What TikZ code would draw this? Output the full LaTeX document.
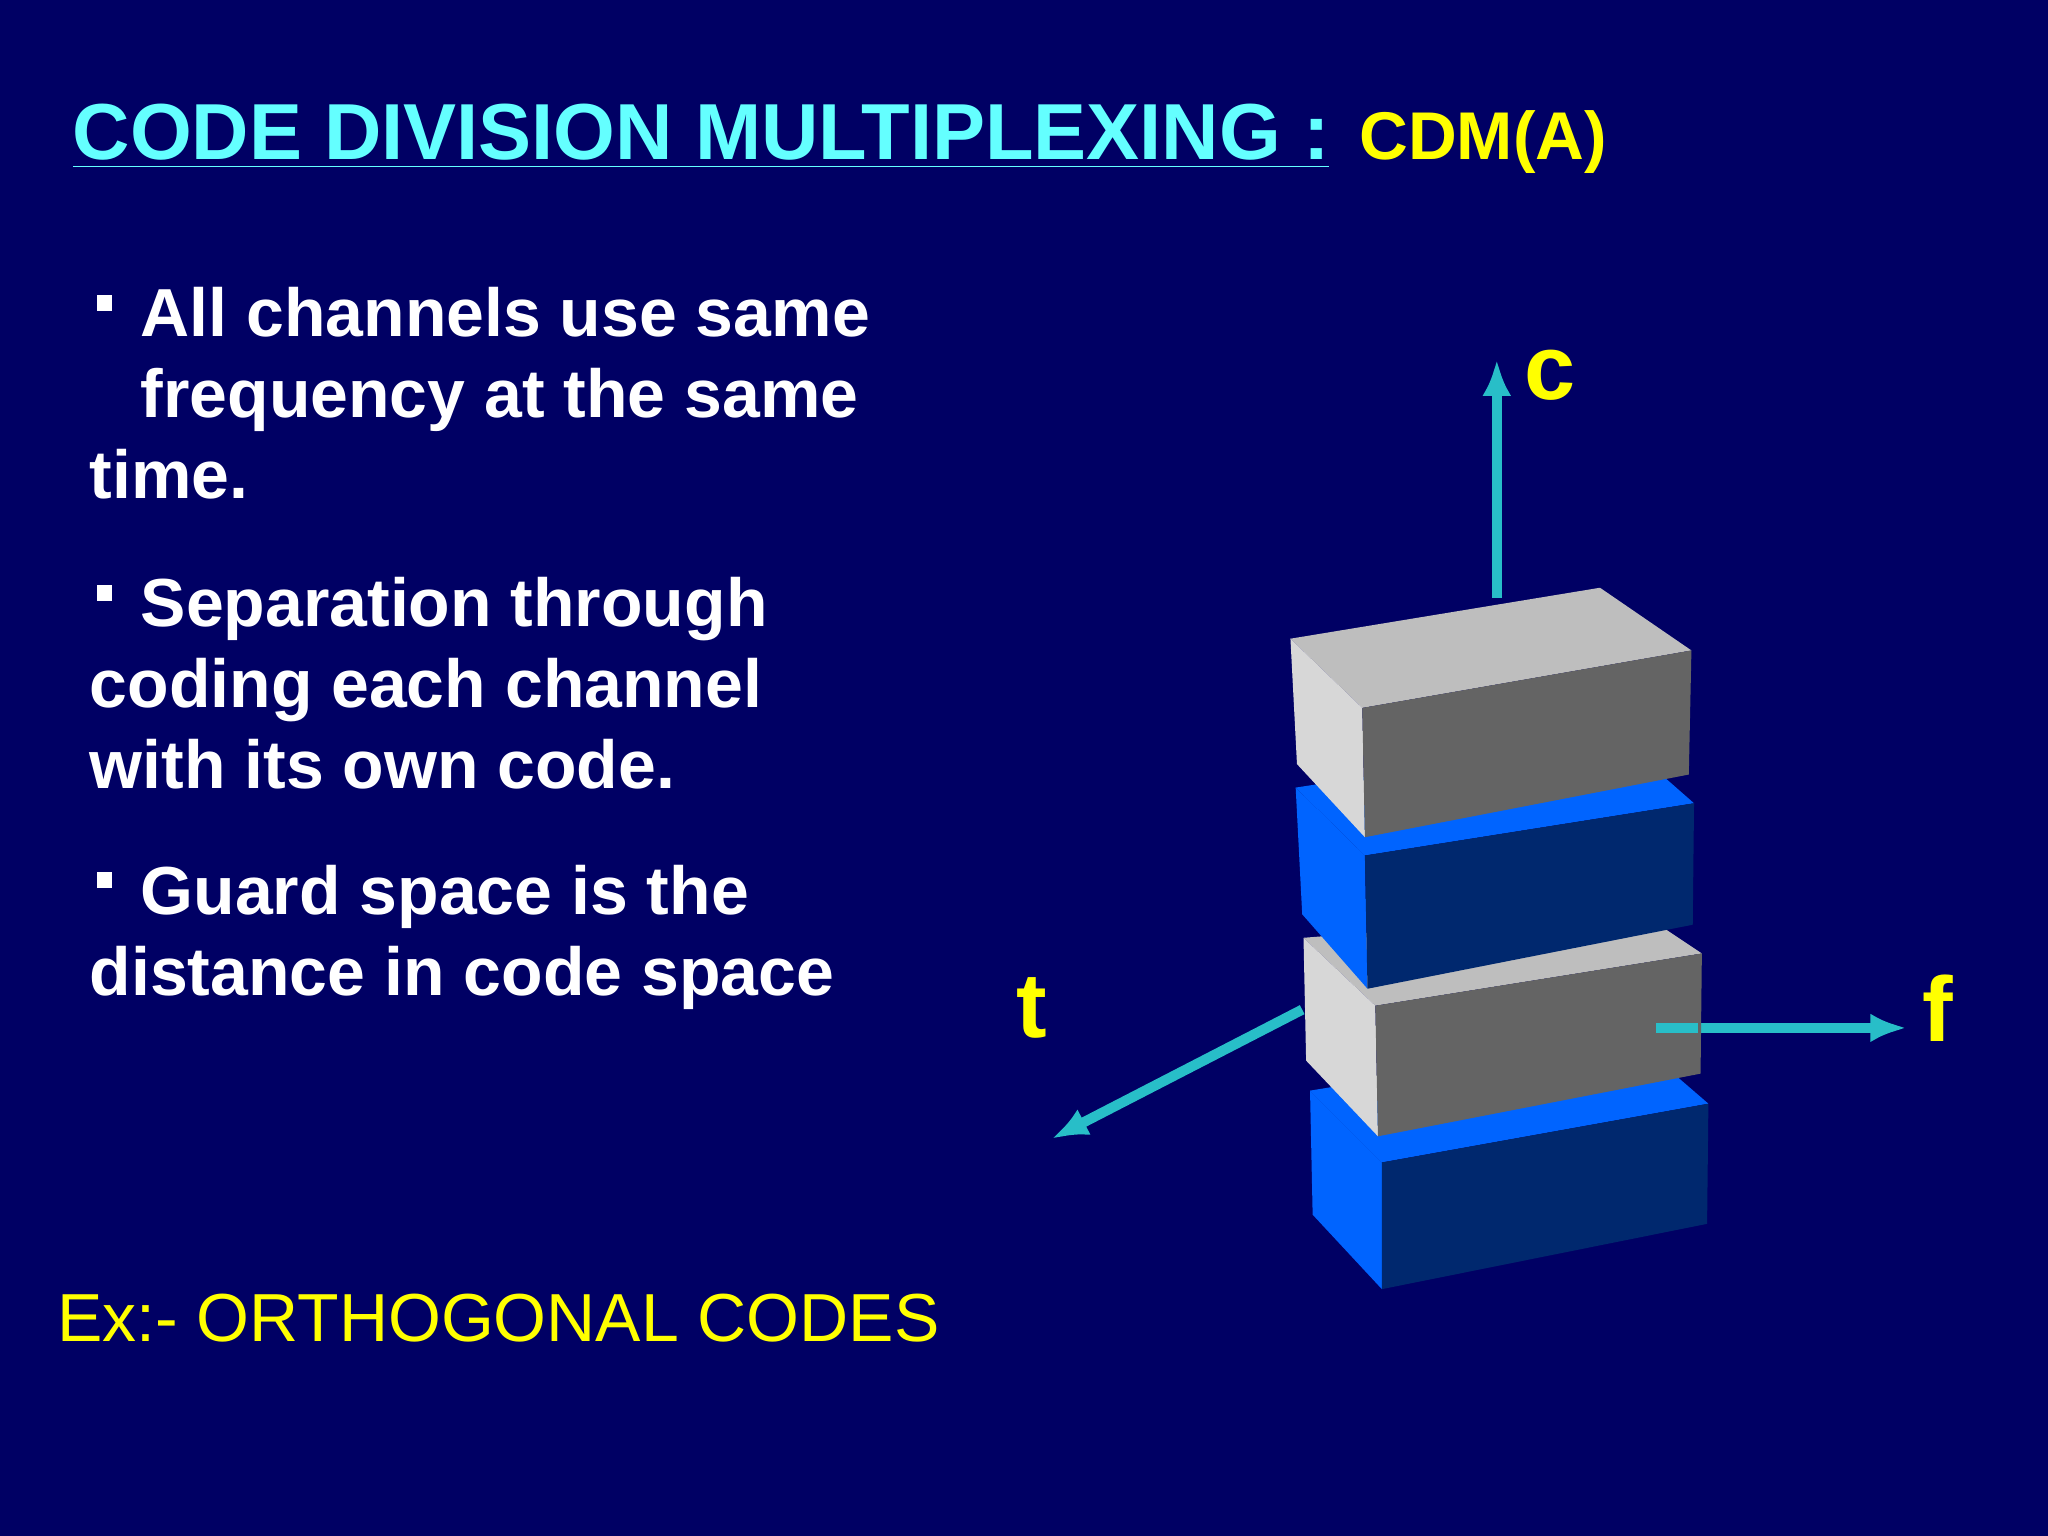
\documentclass[tikz,border=0pt]{standalone}
\usepackage{fontspec}
\setmainfont{Liberation Sans}
\definecolor{bg}{RGB}{0,0,100}
\definecolor{ttl}{RGB}{100,255,255}
\definecolor{yel}{RGB}{255,255,0}
\definecolor{axis}{RGB}{40,190,200}
\definecolor{gtop}{RGB}{190,190,190}
\definecolor{gleft}{RGB}{215,215,215}
\definecolor{gfront}{RGB}{100,100,100}
\definecolor{bleft}{RGB}{0,100,255}
\definecolor{bfront}{RGB}{0,40,110}
\begin{document}
\begin{tikzpicture}[x=0.01cm,y=-0.01cm,
  txt/.style={anchor=base west,inner sep=0,text=white,font=\bfseries\fontsize{14.8pt}{18pt}\selectfont},
  bul/.style={fill=white,minimum size=0.12cm,inner sep=0},
  ax/.style={draw=axis,line width=2.2pt,-{Latex[length=0.28cm,width=0.22cm]}},
  axl/.style={text=yel,font=\bfseries\fontsize{20pt}{24pt}\selectfont}]
\usetikzlibrary{arrows.meta}
\fill[bg] (0,0) rectangle (1568,1176);
\node[anchor=base west,inner sep=0,text=ttl,font=\bfseries\fontsize{17.3pt}{20pt}\selectfont] (title) at (55,122) {\underline{CODE DIVISION MULTIPLEXING :}};
\node[anchor=base west,inner sep=0,text=yel,font=\bfseries\fontsize{14.7pt}{18pt}\selectfont] (cdm) at (1040,122) {CDM(A)};
\node[bul] (b1) at (80,232) {};
\node[txt] (l1) at (107,258) {All channels use same};
\node[txt] (l2) at (107,320) {frequency at the same};
\node[txt] (l3) at (68,382) {time.};
\node[bul] (b2) at (80,454) {};
\node[txt] (l4) at (107,480) {Separation through};
\node[txt] (l5) at (68,542) {coding each channel};
\node[txt] (l6) at (68,604) {with its own code.};
\node[bul] (b3) at (80,674) {};
\node[txt] (l7) at (107,700) {Guard space is the};
\node[txt] (l8) at (68,762) {distance in code space};
\node[anchor=base west,inner sep=0,text=yel,font=\fontsize{14.8pt}{19pt}\selectfont] (ex) at (43,1027) {Ex:- ORTHOGONAL CODES};
% axes
\coordinate (c0) at (1146,458); \coordinate (c1) at (1146,275);
\coordinate (t0) at (997,773); \coordinate (t1) at (805,872);
\coordinate (f0) at (1268,787); \coordinate (f1) at (1460,787);
\draw[ax] (c0) -- (c1);
\draw[ax] (f0) -- (f1);
% bottom blue box
\fill[bleft] (1003,835) -- (1250,795) -- (1308,845) -- (1058,890) -- cycle;
\fill[bleft] (1003,835) -- (1058,890) -- (1058,987) -- (1005,930) -- cycle;
\fill[bfront] (1058,890) -- (1308,845) -- (1307,937) -- (1058,987) -- cycle;
% gray box 3
\fill[gtop] (998,718) -- (1255,698) -- (1303,730) -- (1053,770) -- cycle;
\fill[gleft] (998,718) -- (1053,770) -- (1055,870) -- (1000,812) -- cycle;
\fill[gfront] (1053,770) -- (1303,730) -- (1302,822) -- (1055,870) -- cycle;
% blue box 2
\fill[bleft] (992,603) -- (1240,565) -- (1297,615) -- (1045,655) -- cycle;
\fill[bleft] (992,603) -- (1045,655) -- (1047,757) -- (997,700) -- cycle;
\fill[bfront] (1045,655) -- (1297,615) -- (1296,708) -- (1047,757) -- cycle;
% top gray box
\fill[gtop] (988,489) -- (1225,450) -- (1295,498) -- (1043,542) -- cycle;
\fill[gleft] (988,489) -- (1043,542) -- (1045,641) -- (993,585) -- cycle;
\fill[gfront] (1043,542) -- (1295,498) -- (1293,593) -- (1045,641) -- cycle;
\draw[ax] (t0) -- (t1);
\draw[draw=axis,line width=2.2pt] (1268,787) -- (1300,787);
\node[axl] (cl) at (1187,287) {c};
\node[axl] (tl) at (790,772) {t};
\node[axl] (fl) at (1484,772) {f};
\end{tikzpicture}
\end{document}
